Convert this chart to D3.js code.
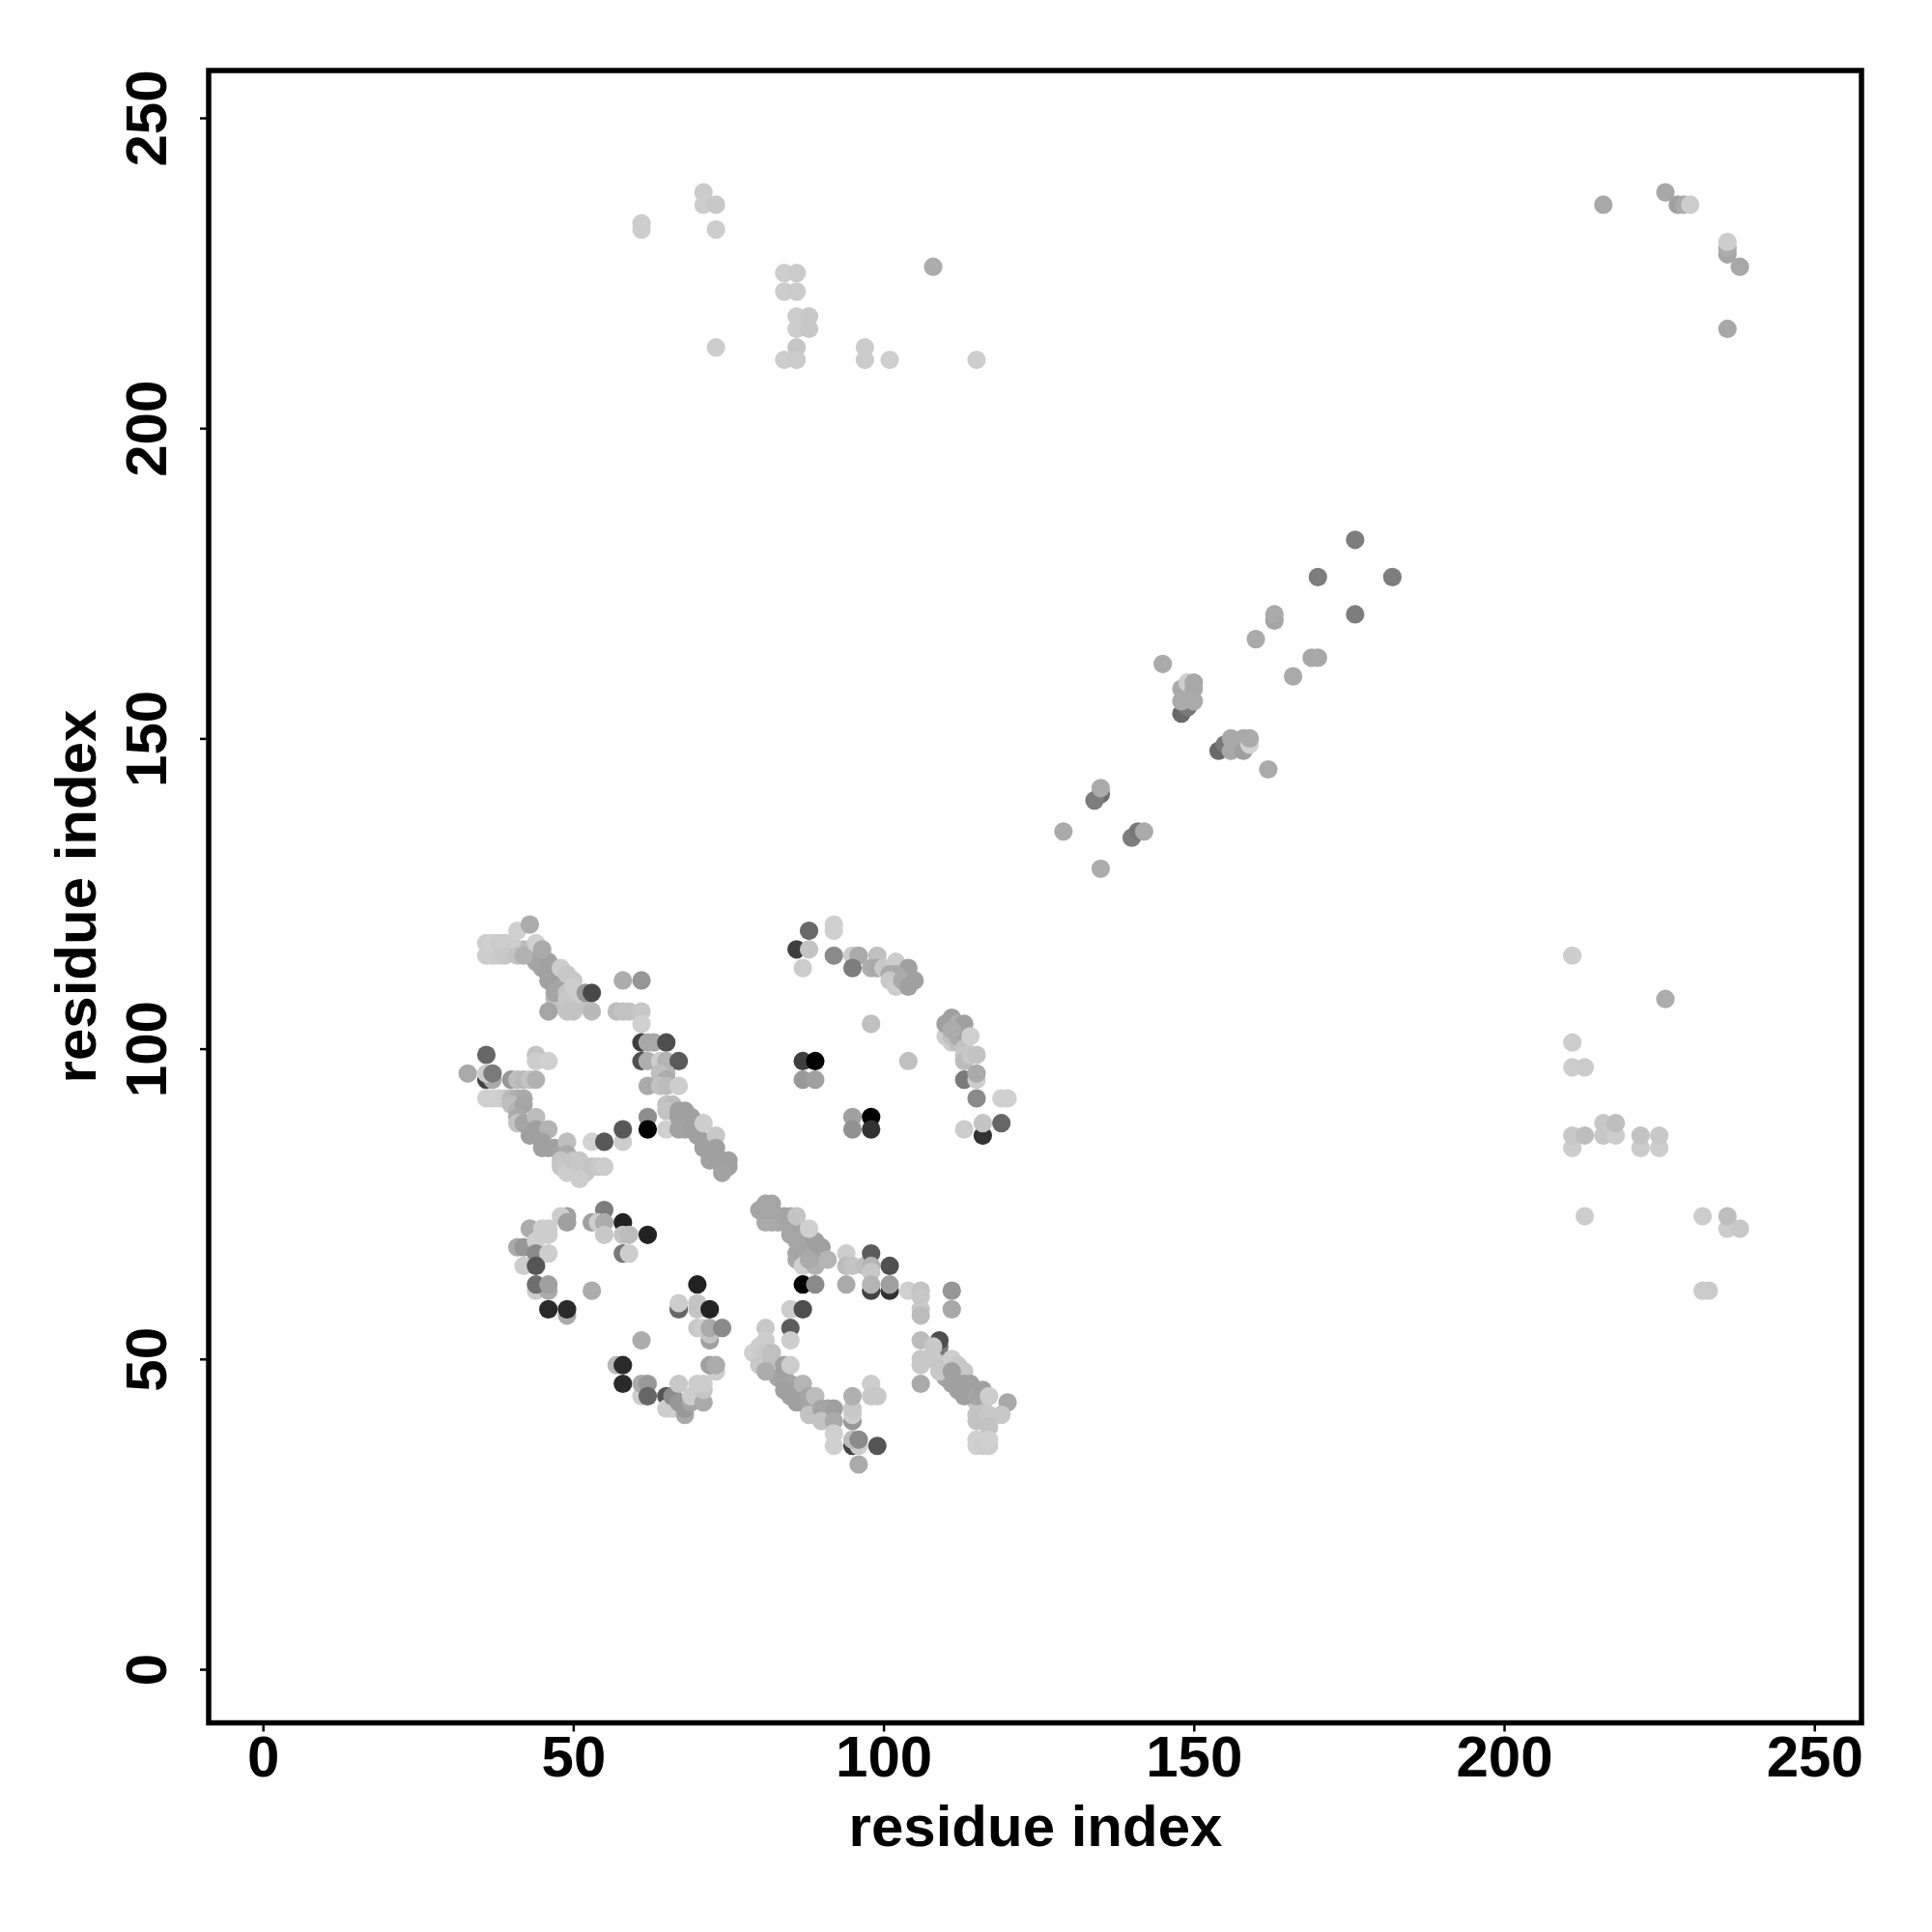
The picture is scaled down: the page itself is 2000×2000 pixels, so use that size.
<!DOCTYPE html>
<html><head><meta charset="utf-8">
<script src="https://cdn.jsdelivr.net/npm/d3@7/dist/d3.min.js"></script>
<style>html,body{margin:0;padding:0;background:#fff}svg{display:block}</style>
</head><body>
<script>
// [residue x, residue y, grey level]
const topLeft = [[61,233,205],[61,232,205],[71,238,203],[71,236,205],[73,236,200],[73,232,205],[73,213,205],[84,225,205],[86,225,203],[84,222,205],[86,222,203],[86,218,205],[88,218,200],[86,216,205],[88,216,200],[84,211,205],[86,213,198],[86,211,203],[97,213,203],[97,211,203],[101,211,207],[115,211,205],[108,226,172]];
const topRight = [[216,236,168],[226,238,168],[228,236,160],[229,236,170],[230,236,205],[236,228,165],[236,229,172],[236,230,205],[238,226,168],[236,216,168]];
const lowerRight = [[211,115,205],[226,108,172],[211,101,205],[211,97,205],[213,97,203],[211,84,205],[211,86,200],[213,86,190],[216,86,200],[218,86,205],[216,88,200],[218,88,190],[222,84,203],[222,86,195],[225,84,205],[225,86,200],[213,73,205],[232,73,205],[236,71,205],[238,71,200],[236,73,190],[232,61,203],[233,61,203]];
const midDiagonal = [[176,182,125],[170,176,125],[182,176,125],[176,170,125],[163,169,165],[163,170,170],[160,166,170],[169,163,168],[170,163,168],[166,160,170],[145,162,170],[148,154,105],[149,155,120],[148,156,170],[148,158,170],[149,159,205],[150,156,170],[150,158,170],[150,159,168],[154,148,105],[155,149,120],[156,148,168],[156,150,168],[158,148,160],[158,150,168],[159,149,210],[159,150,170],[162,145,170],[135,141,110],[134,140,125],[135,142,170],[129,135,170],[140,134,125],[141,135,120],[142,135,170],[135,129,172]];
const upperBlock = [[88,119,105],[92,120,208],[92,119,208],[86,116,62],[88,116,195],[92,115,138],[87,113,204],[95,115,203],[96,115,170],[99,115,192],[95,113,125],[98,113,172],[99,113,170],[100,113,200],[102,114,205],[104,113,160],[101,112,170],[102,112,170],[101,111,200],[102,110,205],[103,111,172],[105,111,160],[104,110,160],[110,102,205],[111,101,205],[111,102,190],[112,101,190],[112,102,172],[111,105,160],[110,104,160],[112,104,175],[113,104,160],[112,103,160],[113,100,195],[111,103,172],[114,102,208],[113,99,200],[113,98,188],[114,99,200],[115,99,195],[104,98,192],[98,104,192],[87,98,62],[89,98,0],[87,95,152],[89,95,160],[95,89,160],[95,87,145],[98,89,0],[98,87,50],[113,87,205],[116,86,50],[116,88,196],[119,88,102],[115,92,138],[119,92,208],[120,92,208],[113,95,122],[115,95,205],[115,96,170]];
const upperLeftFill = [[42,116,190],[43,116,185],[43,115,175],[44,115,168],[44,114,165],[45,115,165],[45,113,162],[46,112,160],[47,111,160],[48,111,160],[48,109,190],[49,110,190],[50,108,195],[51,108,200],[52,107,196],[47,108,190],[48,107,195]];
const upperLeft = [[36,115,205],[37,115,205],[38,115,203],[36,117,205],[37,117,207],[38,117,203],[39,117,205],[40,117,205],[39,115,200],[41,115,195],[42,115,178],[41,119,208],[43,120,172],[44,117,208],[45,114,165],[46,114,162],[46,113,162],[47,113,162],[47,112,162],[46,111,162],[47,110,160],[48,112,160],[48,110,165],[47,109,165],[49,109,195],[49,108,200],[45,116,170],[48,113,205],[49,112,200],[50,111,200],[50,110,205],[51,109,205],[52,109,152],[53,109,72],[46,106,165],[49,106,196],[50,106,196],[53,106,185],[57,106,188],[58,106,195],[59,106,195],[61,106,200],[61,104,208],[58,111,172],[61,111,150]];
const midLeft = [[61,101,62],[62,101,168],[63,101,168],[65,101,78],[61,98,80],[62,98,175],[64,98,205],[65,98,180],[67,98,90],[65,96,180],[64,96,190],[65,95,172],[62,94,170],[64,94,195],[65,94,188],[67,94,205],[65,91,195],[66,91,188],[65,90,195],[65,87,208],[67,90,160],[68,90,160],[67,89,160],[69,89,160],[67,87,162],[68,87,162],[69,87,160],[70,88,160],[70,86,160],[71,85,160],[71,84,160],[72,83,160],[71,88,205],[73,86,200],[73,84,160],[72,82,160],[73,82,160],[74,82,160],[74,81,160],[75,82,160],[75,81,160],[74,80,162],[62,89,142],[62,87,0],[58,85,205],[58,87,88],[53,85,210],[55,85,88]];
const leftBand = [[33,96,170],[36,99,102],[36,95,66],[37,95,170],[36,96,205],[37,96,122],[40,95,152],[41,95,190],[42,95,185],[43,95,196],[44,95,178],[44,99,196],[44,98,205],[46,98,208],[36,92,208],[37,92,208],[38,92,208],[39,92,205],[40,92,185],[41,92,175],[42,92,170],[40,91,190],[41,90,180],[42,91,165],[41,89,170],[41,88,195],[42,88,165],[43,88,165],[44,89,188],[43,86,160],[44,87,160],[45,86,160],[46,87,180],[45,85,160],[45,84,160],[46,84,160],[47,84,160],[48,83,165],[49,85,190],[49,83,170],[48,82,195],[48,81,198],[49,81,200],[49,80,205],[50,82,198],[51,82,200],[51,81,200],[52,80,200],[51,79,205],[53,81,196],[54,81,200],[55,81,205]];
const lowerLeft = [[55,74,125],[49,73,160],[48,73,205],[49,72,160],[53,72,160],[54,72,205],[55,72,172],[58,72,34],[55,70,200],[58,70,196],[59,70,188],[62,70,34],[58,67,120],[59,67,205],[43,71,172],[41,68,170],[42,68,150],[44,69,208],[45,71,205],[46,71,205],[45,70,205],[46,70,205],[44,67,138],[46,67,205],[42,65,205],[44,65,85],[44,61,205],[46,61,172],[44,62,110],[46,62,160],[49,57,170],[46,58,42],[49,58,42],[53,61,172],[70,62,34],[67,58,102],[67,59,205],[70,58,196],[70,59,196],[72,58,34],[70,55,200],[71,55,205],[72,53,160],[72,54,195],[72,55,170],[74,55,138],[61,53,172],[57,49,185],[58,49,42],[58,46,42],[61,44,205],[61,46,172],[62,46,152],[62,44,102],[65,44,85],[65,42,205],[66,42,205],[66,44,140],[67,43,152],[68,41,170],[68,42,152],[69,43,165],[67,46,200],[69,44,205],[71,43,170],[71,45,196],[70,46,205],[71,46,205],[73,48,205],[72,49,160],[73,49,172]];
const bandFill = [[83,72,165],[83,73,165],[84,72,165],[85,71,165],[86,70,165],[86,69,165],[87,69,165],[87,68,165],[88,67,165],[86,67,165],[86,66,170],[88,69,165],[83,47,165],[84,47,162],[84,48,162],[85,45,160],[85,44,162],[86,44,162],[87,43,165],[87,44,165],[88,42,170],[89,42,175],[89,43,170],[110,48,165],[110,47,165],[111,47,160],[112,47,160],[113,47,165],[113,45,160],[114,45,160],[114,44,165],[110,50,200],[109,50,195],[115,43,195],[116,43,195],[116,42,195],[116,41,195],[116,40,195]];
const bandA = [[81,72,170],[82,72,170],[80,74,165],[81,74,165],[82,74,165],[81,75,165],[82,75,165],[84,73,165],[85,73,165],[86,71,165],[85,70,165],[87,70,165],[88,68,165],[87,67,165],[89,67,165],[89,69,160],[90,68,160],[86,73,196],[88,71,208],[87,65,208],[89,65,178],[88,66,170],[91,66,180],[94,67,205],[94,65,188],[95,65,196],[94,62,170],[97,65,190],[98,67,92],[98,65,180],[98,64,200],[98,61,68],[98,62,180],[101,61,50],[101,65,80],[101,62,160],[87,62,0],[89,62,138],[85,58,205],[87,58,78],[85,55,92],[85,53,205]];
const bandB = [[81,55,200],[81,53,205],[79,51,208],[80,52,205],[80,50,205],[81,52,205],[81,51,200],[81,49,195],[80,49,200],[82,51,192],[82,50,192],[81,48,172],[84,49,160],[85,49,204],[84,46,162],[85,46,165],[84,45,160],[86,45,160],[87,46,180],[86,43,160],[88,43,165],[88,44,165],[89,44,188],[88,41,195],[90,42,165],[91,42,165],[90,40,195],[92,42,160],[92,40,170],[92,38,208],[92,36,208],[95,40,150],[95,41,205],[95,42,200],[95,44,176],[98,46,205],[98,44,200],[99,44,200],[95,36,68],[96,36,205],[95,37,188],[96,37,138],[99,36,85],[96,33,170]];
const bandC = [[104,61,208],[106,61,196],[106,60,200],[106,58,200],[106,57,188],[111,61,150],[111,58,168],[106,53,188],[109,52,120],[109,53,78],[108,52,200],[106,50,200],[106,49,200],[108,50,200],[109,48,200],[106,46,170],[111,50,205],[112,49,200],[113,48,200],[111,48,160],[111,46,162],[112,46,160],[112,45,160],[113,46,160],[113,44,160],[114,46,160],[115,45,160],[115,44,165],[116,45,160],[115,41,196],[115,40,195],[117,41,200],[117,39,195],[117,44,205],[120,43,168],[119,41,200],[115,37,208],[115,36,208],[116,36,205],[117,36,205],[117,37,208]];
const points = [...topLeft, ...topRight, ...lowerRight, ...midDiagonal, ...upperBlock, ...upperLeftFill, ...upperLeft, ...midLeft, ...leftBand, ...lowerLeft, ...bandFill, ...bandA, ...bandB, ...bandC];
const xTicks = [0,50,100,150,200,250];
const yTicks = [0,50,100,150,200,250];
const axisTitle = "residue index";

const W=2000,H=2000;
const frame={l:216,r:1927,t:73,b:1783.5};
const x=d3.scaleLinear().domain([0,250]).range([272.2,1878.2]);
const y=d3.scaleLinear().domain([0,250]).range([1728,122]);
const svg=d3.select("body").append("svg").attr("width",W).attr("height",H);
svg.append("rect").attr("width",W).attr("height",H).attr("fill","#fff");
const font="'Liberation Sans',Arial,sans-serif";

svg.append("g").selectAll("circle").data(points).join("circle")
  .attr("cx",d=>x(d[0])).attr("cy",d=>y(d[1])).attr("r",9.6)
  .attr("fill",d=>`rgb(${d[2]},${d[2]},${d[2]})`);

svg.append("rect").attr("x",frame.l).attr("y",frame.t)
  .attr("width",frame.r-frame.l).attr("height",frame.b-frame.t)
  .attr("fill","none").attr("stroke","#000").attr("stroke-width",5.5);

const gx=svg.append("g").attr("transform",`translate(0,${frame.b})`)
  .call(d3.axisBottom(x).tickValues(xTicks).tickSize(9).tickPadding(4));
const gy=svg.append("g").attr("transform",`translate(${frame.l},0)`)
  .call(d3.axisLeft(y).tickValues(yTicks).tickSize(9));
[gx,gy].forEach(g=>{
  g.select(".domain").remove();
  g.selectAll("line").attr("stroke","#000").attr("stroke-width",2.5);
  g.selectAll("text").attr("fill","#000").attr("font-family",font).attr("font-weight","bold").attr("font-size",60);
});
gy.selectAll("text").attr("transform","rotate(-90)").attr("text-anchor","middle").attr("x",0).attr("y",-44).attr("dy",0);

svg.append("text").attr("x",1072).attr("y",1910.5).attr("text-anchor","middle")
  .attr("font-family",font).attr("font-weight","bold").attr("font-size",60).text(axisTitle);
svg.append("text").attr("transform","translate(99,928) rotate(-90)").attr("text-anchor","middle")
  .attr("font-family",font).attr("font-weight","bold").attr("font-size",60).text(axisTitle);
</script>
</body></html>
